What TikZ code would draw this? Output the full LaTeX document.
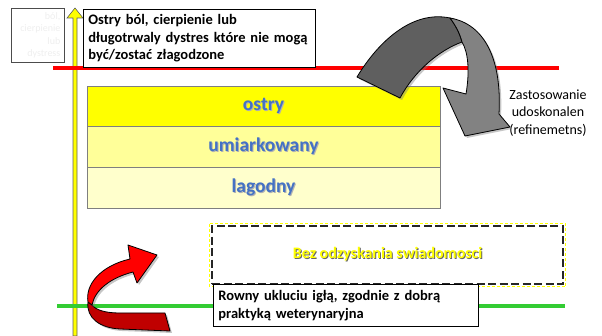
\documentclass[tikz,border=0pt]{standalone}
\usepackage{fontspec}
\setmainfont{Carlito}
\usepackage{tikz}
\usetikzlibrary{positioning,shadows}
\definecolor{axisyellow}{RGB}{255,255,0}
\definecolor{axisgrey}{RGB}{96,96,96}
\definecolor{limitred}{RGB}{255,0,0}
\definecolor{limitgreen}{RGB}{51,204,51}
\definecolor{rowstrong}{RGB}{255,255,0}
\definecolor{rowmid}{RGB}{255,255,153}
\definecolor{rowsoft}{RGB}{255,255,204}
\definecolor{rowline}{RGB}{127,127,127}
\definecolor{labelblue}{RGB}{68,114,196}
\definecolor{arrowdark}{RGB}{95,95,95}
\definecolor{arrowlight}{RGB}{130,130,130}
\definecolor{bendred}{RGB}{255,0,0}
\definecolor{benddark}{RGB}{192,0,0}
\definecolor{faintgrey}{RGB}{238,238,238}
\tikzset{
  textbox/.style={draw=black,line width=0.8pt,fill=white,align=left,
    anchor=north west,inner xsep=5pt,inner ysep=3pt,
    drop shadow={shadow xshift=1pt,shadow yshift=-1pt,opacity=0.35}},
  rowbox/.style={draw=rowline,line width=0.8pt,minimum width=353pt,
    minimum height=40.7pt,inner sep=0pt,outer sep=0pt,
    font=\fontsize{19.5}{22}\selectfont\bfseries},
  limitline/.style={line width=4pt},
  ribbon/.style={draw=black,line width=0.8pt,line join=round,
    drop shadow={shadow xshift=2pt,shadow yshift=-2pt,opacity=0.45}},
  smalllabel/.style={font=\fontsize{14}{17.5}\selectfont,align=center}
}
\newcommand{\shadowtxt}[3]{\leavevmode
  \rlap{\hspace{1pt}\raisebox{-1pt}{\textcolor{#2}{#3}}}\textcolor{#1}{#3}}

\begin{document}
\begin{tikzpicture}[x=1pt,y=-1pt]
  \useasboundingbox (0,0) rectangle (602,336);
  % vertical axis
  \path[fill=axisyellow,draw=axisgrey,line width=0.6pt]
    (73,336) -- (73,18) -- (67,18) -- (75,8) -- (83,18) -- (77,18)
    -- (77,336) -- cycle;
  \node[draw=black!70,line width=0.6pt,anchor=north west,minimum width=53pt,
    minimum height=54pt,text width=45pt,align=right,inner sep=3pt,
    text=faintgrey,font=\fontsize{10}{12.5}\selectfont] (faint) at (11,8)
    {ból,\\cierpienie\\lub\\dystress};
  % limits
  \coordinate (redL) at (53,68);
  \coordinate (redR) at (559,68);
  \coordinate (greenL) at (57,306);
  \coordinate (greenR) at (565,306);
  \draw[limitline,limitred] (redL) -- (redR);
  \draw[limitline,limitgreen] (greenL) -- (greenR);
  % severity rows
  \node[rowbox,fill=rowstrong,anchor=north west] (ostry) at (87,86)
    {\shadowtxt{labelblue}{black!30}{ostry}};
  \node[rowbox,fill=rowmid,below=0pt of ostry] (umiark)
    {\shadowtxt{labelblue}{black!30}{umiarkowany}};
  \node[rowbox,fill=rowsoft,below=0pt of umiark] (lagodny)
    {\shadowtxt{labelblue}{black!30}{lagodny}};
  % unconscious box
  \node[draw=black!85,line width=2.2pt,dash pattern=on 8pt off 3.5pt,
    anchor=north west,minimum width=351pt,minimum height=58pt,
    font=\fontsize{16}{19}\selectfont\bfseries] (bez) at (211,225)
    {\shadowtxt{axisyellow}{black!60}{Bez odzyskania swiadomosci}};
  \draw[axisyellow,line width=0.9pt,dash pattern=on 3pt off 2pt]
    ([shift={(-1.4,-1.4)}]bez.north west) rectangle
    ([shift={(1.4,1.4)}]bez.south east);
  % text boxes
  \node[textbox,text width=222pt,minimum height=58pt,
    font=\fontsize{14.5}{17.5}\selectfont\bfseries] (ostrybox) at (83,9)
    {Ostry ból, cierpienie lub\\długotrwaly dystres które nie mogą\\
     być/zostać złagodzone};
  \node[textbox,text width=255pt,minimum height=42pt,
    font=\fontsize{14.5}{18}\selectfont\bfseries] (igla) at (213,284)
    {Rowny ukluciu igłą, zgodnie z dobrą\\praktyką weterynaryjna};
  \node[smalllabel] (refine) at (548,113)
    {Zastosowanie\\udoskonalen\\(refinemetns)};
  % grey bent arrow
  \path[ribbon,fill=arrowdark]
    (357,77) .. controls (378,42) and (412,10) .. (450,18)
    .. controls (456,26) and (460,34) .. (462,42)
    .. controls (440,50) and (415,70) .. (400,98) -- cycle;
  \path[ribbon,fill=arrowlight]
    (450,18) .. controls (485,24) and (502,60) .. (499,114)
    -- (510,127) -- (465,136) -- (443,88) -- (466,94)
    .. controls (470,70) and (468,52) .. (462,42)
    .. controls (460,34) and (456,26) .. (450,18) -- cycle;
  % red bent arrow
  \path[ribbon,fill=benddark]
    (88,302) .. controls (86,318) and (100,328) .. (120,329)
    -- (170,331) -- (165,313) -- (120,313)
    .. controls (105,313) and (96,310) .. (92,305) -- cycle;
  \path[ribbon,fill=bendred]
    (88,302) .. controls (85,285) and (100,266) .. (130,259)
    -- (128,245) -- (157,255) -- (137,283) -- (133,272)
    .. controls (110,278) and (95,290) .. (92,305) -- cycle;
\end{tikzpicture}
\end{document}
